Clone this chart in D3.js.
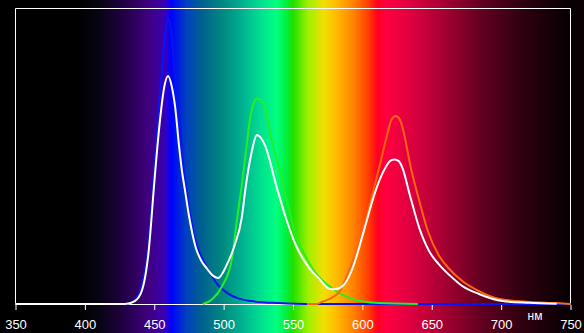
<!DOCTYPE html>
<head>
  <meta charset="utf-8">
  <style>
  body { margin: 0; background: #000; }
  svg { display: block; }
  .axis text { fill: #fff; font-family: "Liberation Sans", Arial, sans-serif; font-size: 13px; }
  .axis line { stroke: #fff; }
  .curve { fill: none; stroke-width: 2px; stroke-linejoin: round; }
  </style>
  <script src="https://d3js.org/d3.v7.min.js"></script>
</head>

<body>
  <svg width="584" height="333"></svg>

  <script>

  // wavelength ticks
  var ticks = [350, 400, 450, 500, 550, 600, 650, 700, 750];

  // blue LED component
  var blueNm  = [350, 430, 435, 440, 445, 450, 453, 455, 458, 460, 462, 465, 468, 470, 475, 480, 485, 490, 495, 500, 505, 510, 520, 540, 560, 750];
  var blueVal = [0, 0, 0.01, 0.05, 0.17, 0.46, 0.65, 0.76, 0.92, 0.97, 0.93, 0.77, 0.62, 0.51, 0.33, 0.21, 0.15, 0.108, 0.07, 0.047, 0.03, 0.02, 0.01, 0.003, 0, 0];

  // green component
  var greenNm  = [485, 492, 499, 506, 509, 513, 516, 519, 522, 524, 527, 530, 534, 540, 546, 552, 560, 568, 576, 591, 612, 640];
  var greenVal = [0, 0.017, 0.061, 0.153, 0.264, 0.40, 0.513, 0.627, 0.685, 0.696, 0.69, 0.665, 0.569, 0.458, 0.342, 0.231, 0.153, 0.095, 0.061, 0.02, 0.003, 0];

  // red component
  var redNm  = [560, 567, 571, 579, 584, 590, 595, 600, 603, 606, 612, 618, 621, 624, 627, 629, 635, 641, 647, 655, 662, 672, 684, 699, 720, 740, 750];
  var redVal = [0, 0, 0.007, 0.024, 0.044, 0.11, 0.17, 0.25, 0.29, 0.35, 0.46, 0.576, 0.625, 0.637, 0.625, 0.597, 0.46, 0.35, 0.25, 0.165, 0.122, 0.078, 0.044, 0.017, 0.007, 0.003, 0];

  // white (total) spectrum
  var whiteNm  = [350, 429, 436, 441, 446, 450, 452, 455, 457, 460, 462.5, 465, 468, 470, 472, 475, 480, 484, 488, 492, 496, 502, 508, 513, 516, 520, 524, 530, 538, 545, 552, 562, 569, 576, 580, 586, 593, 600, 603, 606, 610, 617, 620, 623, 626, 629, 634, 641, 648, 655, 663, 672, 684, 701, 720, 740];
  var whiteVal = [0, 0, 0.01, 0.044, 0.18, 0.41, 0.52, 0.66, 0.73, 0.773, 0.74, 0.67, 0.53, 0.45, 0.39, 0.30, 0.19, 0.146, 0.12, 0.097, 0.088, 0.13, 0.20, 0.29, 0.40, 0.51, 0.573, 0.536, 0.40, 0.29, 0.20, 0.12, 0.085, 0.052, 0.05, 0.062, 0.122, 0.23, 0.28, 0.33, 0.39, 0.465, 0.485, 0.49, 0.485, 0.46, 0.373, 0.258, 0.18, 0.135, 0.097, 0.061, 0.034, 0.01, 0.004, 0.001];

  // background spectrum stops
  var specNm  = [350, 393, 409, 427, 446, 457, 460, 462, 473, 484, 499, 513, 527, 538, 545, 550, 561, 572, 580, 594, 604, 611, 617, 634, 661, 687, 714, 741, 750];
  var specCol = ["#000000", "#000000", "#050510", "#200040", "#400080", "#3a00b0", "#2000e0", "#0000ff", "#0040c0", "#006090", "#008880", "#00b090", "#00e090", "#00ff80", "#00f040", "#20e000", "#a0f000", "#f0e000", "#ffc000", "#ff8000", "#ff4000", "#ff0020", "#ff0040", "#e00040", "#a00030", "#600020", "#300010", "#100005", "#080003"];

  var svg = d3.select("svg"),
  width = +svg.attr("width"),
  height = +svg.attr("height");

  var x = d3.scaleLinear().domain([350, 750]).range([15.5, 570.5]);
  var y = d3.scaleLinear().domain([0, 1]).range([304, 9]);

  var grad = svg.append("defs").append("linearGradient")
  .attr("id", "spectrum")
  .attr("gradientUnits", "userSpaceOnUse")
  .attr("x1", x(350)).attr("x2", x(750))
  .attr("y1", 0).attr("y2", 0);

  grad.selectAll("stop")
  .data(specNm)
  .enter().append("stop")
  .attr("offset", function(d) { return (d - 350) / 400; })
  .attr("stop-color", function(d, i) { return specCol[i]; });

  svg.append("rect")
  .attr("width", width).attr("height", height)
  .attr("fill", "url(#spectrum)");

  // frame
  svg.append("path")
  .attr("d", "M" + x(350) + "," + (y(0) + 1) + "V8.5H" + x(750) + "V" + (y(0) + 1))
  .attr("fill", "none")
  .attr("stroke", "#fff");

  svg.append("line")
  .attr("x1", x(350)).attr("x2", x(750))
  .attr("y1", y(0) + 0.5).attr("y2", y(0) + 0.5)
  .attr("stroke", "#fff");

  var axis = svg.append("g")
  .attr("class", "axis")
  .attr("transform", "translate(0," + (y(0) + 1) + ")")
  .call(d3.axisBottom(x).tickValues(ticks).tickSize(5).tickPadding(10).tickFormat(d3.format("d")));
  axis.select(".domain").remove();

  svg.append("text")
  .attr("x", 535).attr("y", 320)
  .attr("text-anchor", "middle")
  .attr("fill", "#fff")
  .style("font-family", "Liberation Sans, Arial, sans-serif")
  .style("font-size", "12px")
  .text("нм");

  var line = d3.line()
  .x(function(d) { return x(d[0]); })
  .y(function(d) { return y(d[1]); })
  .curve(d3.curveMonotoneX);

  var series = [
    { nm: blueNm, val: blueVal, color: "#0a14f0" },
    { nm: greenNm, val: greenVal, color: "#22f022" },
    { nm: redNm, val: redVal, color: "#ff6410" },
    { nm: whiteNm, val: whiteVal, color: "#ffffff" }
  ];

  svg.selectAll(".curve")
  .data(series)
  .enter().append("path")
  .attr("class", "curve")
  .attr("stroke", function(d) { return d.color; })
  .attr("d", function(d) { return line(d3.zip(d.nm, d.val)); });

  </script>
</body>
